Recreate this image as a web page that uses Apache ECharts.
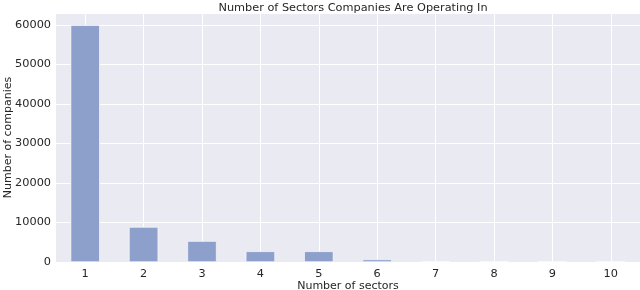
<!DOCTYPE html>
<html><head><meta charset="utf-8">
<script src="https://cdn.jsdelivr.net/npm/echarts@6/dist/echarts.min.js"></script>
<style>html,body{margin:0;padding:0;background:#fff}#c{width:640px;height:290px}</style>
</head><body><div id="c"></div>
<script>
const categories = ['1','2','3','4','5','6','7','8','9','10'];
const companies = [59900, 8850, 5300, 2700, 2700, 650, 200, 180, 180, 170];
const yTicks = [0, 10000, 20000, 30000, 40000, 50000, 60000];
const title = 'Number of Sectors Companies Are Operating In';

const chart = echarts.init(document.getElementById('c'), null, {renderer: 'canvas'});
const font = 'DejaVu Sans';
const plotLeft = 56, plotRight = 0, plotW = 640 - plotLeft - plotRight;
const half = plotW / categories.length / 2;
chart.setOption({
  animation: false,
  backgroundColor: '#ffffff',
  title: {text: title, left: 348, top: -2, textAlign: 'center',
    textStyle: {fontFamily: font, fontSize: 11.3, fontWeight: 'normal', color: '#262626'}},
  grid: [
    {left: plotLeft, right: plotRight, top: 13, bottom: 28, show: true, backgroundColor: '#EAEAF2', borderWidth: 0,
     containLabel: false, outerBoundsMode: 'none'},
    {left: plotLeft + half, right: plotRight + half, top: 13, bottom: 28, show: false,
     containLabel: false, outerBoundsMode: 'none'}
  ],
  xAxis: [
    {type: 'category', data: categories, boundaryGap: true, gridIndex: 0,
     name: 'Number of sectors', nameLocation: 'middle', nameGap: 19, nameMoveOverlap: false,
     nameTextStyle: {fontFamily: font, fontSize: 11, color: '#262626'},
     axisLine: {show: false}, axisTick: {show: false},
     axisLabel: {fontFamily: font, fontSize: 11.3, color: '#262626', margin: 7, interval: 0},
     splitLine: {show: false}, z: 1},
    {type: 'value', gridIndex: 1, min: 1, max: categories.length, interval: 1,
     axisLine: {show: false}, axisTick: {show: false}, axisLabel: {show: false},
     splitLine: {show: true, lineStyle: {color: '#ffffff', width: 1}}, z: 0}
  ],
  yAxis: [
    {type: 'value', gridIndex: 0, min: 0, max: 63000, interval: 10000,
     name: 'Number of companies', nameLocation: 'middle', nameGap: 42, nameMoveOverlap: false,
     nameTextStyle: {fontFamily: font, fontSize: 11, color: '#262626'},
     axisLine: {show: false}, axisTick: {show: false},
     axisLabel: {fontFamily: font, fontSize: 11.3, color: '#262626', margin: 5,
       formatter: v => yTicks.includes(v) ? String(v) : ''},
     splitLine: {show: true, lineStyle: {color: '#ffffff', width: 1}}, z: 0},
    {type: 'value', gridIndex: 1, min: 0, max: 1, show: false, splitLine: {show: false}}
  ],
  series: [
    {type: 'bar', data: companies, barWidth: '50%', xAxisIndex: 0, yAxisIndex: 0,
     itemStyle: {color: '#8DA0CB', borderColor: '#ffffff', borderWidth: 0.6},
     z: 3}
  ]
});
</script></body></html>
